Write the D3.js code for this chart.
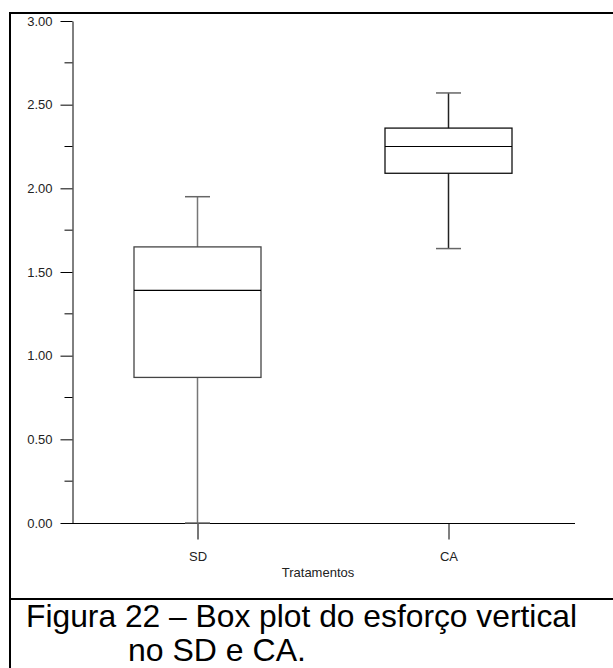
<!DOCTYPE html>
<html><head><meta charset="utf-8">
<script src="https://cdn.jsdelivr.net/npm/d3@7"></script>
<style>body{margin:0;background:#fff;}svg{display:block;}</style>
</head><body>
<svg id="c" width="613" height="668"></svg>
<script>
const categories = ["SD", "CA"];
const whiskerLow = [0.00, 1.64];
const q1 = [0.87, 2.09];
const median = [1.39, 2.25];
const q3 = [1.65, 2.36];
const whiskerHigh = [1.95, 2.57];
const yMajorTicks = [0, 0.5, 1.0, 1.5, 2.0, 2.5, 3.0];
const yMinorTicks = [0.25, 0.75, 1.25, 1.75, 2.25, 2.75];
const xTitle = "Tratamentos";
const captionLines = ["Figura 22 – Box plot do esforço vertical", "no SD e CA."];

const svg = d3.select("#c");
const font = "Arial, 'Liberation Sans', sans-serif";

// frame
svg.append("line").attr("x1",10).attr("x2",613).attr("y1",13).attr("y2",13).attr("stroke","#000").attr("stroke-width",2);
svg.append("line").attr("x1",10).attr("x2",10).attr("y1",12).attr("y2",668).attr("stroke","#000").attr("stroke-width",2);
svg.append("line").attr("x1",10).attr("x2",613).attr("y1",599).attr("y2",599).attr("stroke","#000").attr("stroke-width",2);

const y = d3.scaleLinear().domain([0,3]).range([523,21]);
const x = d3.scalePoint().domain(categories).range([72,574]).padding(0.5);

// y axis
const gy = svg.append("g").attr("transform","translate(72.5,0)");
gy.call(d3.axisLeft(y).tickValues(yMajorTicks).tickFormat(d3.format(".2f")).tickSize(12).tickSizeOuter(0).tickPadding(8));
gy.selectAll(".minor").data(yMinorTicks).enter().append("line")
  .attr("x1",-8).attr("x2",0).attr("y1",d=>y(d)).attr("y2",d=>y(d)).attr("stroke","#000");
gy.select(".domain").attr("stroke","#000");
gy.selectAll("text").attr("font-family",font).attr("font-size",13).attr("fill","#222");

// x axis
const gx = svg.append("g").attr("transform","translate(0,523.5)");
gx.call(d3.axisBottom(x).tickSize(16).tickSizeOuter(0).tickPadding(8));
gx.select(".domain").attr("d","M72,0H575").attr("stroke","#000");
gx.selectAll("text").attr("font-family",font).attr("font-size",13).attr("fill","#222")
  .attr("y",37.5).attr("dy",null);
gx.selectAll(".tick line").attr("stroke",(d,i)=>i===0?"#777":"#000").attr("stroke-width",(d,i)=>i===0?2:1);

svg.append("text").attr("x",318).attr("y",577).attr("text-anchor","middle")
  .attr("font-family",font).attr("font-size",13).attr("fill","#222").text(xTitle);

// boxes
const boxW = 127, capW = 25;
categories.forEach((c,i)=>{
  const cx = x(c);
  const g = svg.append("g");
  const wcol = i===0 ? "#777" : "#222";
  const bcol = i===0 ? "#444" : "#111";
  g.append("line").attr("x1",cx).attr("x2",cx).attr("y1",y(whiskerHigh[i])).attr("y2",y(q3[i])).attr("stroke",wcol).attr("stroke-width",1.5);
  g.append("line").attr("x1",cx).attr("x2",cx).attr("y1",y(q1[i])).attr("y2",y(whiskerLow[i])).attr("stroke",wcol).attr("stroke-width",1.5);
  g.append("line").attr("x1",cx-capW/2).attr("x2",cx+capW/2).attr("y1",y(whiskerHigh[i])).attr("y2",y(whiskerHigh[i])).attr("stroke","#666").attr("stroke-width",1.5);
  g.append("line").attr("x1",cx-capW/2).attr("x2",cx+capW/2).attr("y1",y(whiskerLow[i])).attr("y2",y(whiskerLow[i])).attr("stroke","#666").attr("stroke-width",1.5);
  g.append("rect").attr("x",cx-boxW/2).attr("width",boxW).attr("y",y(q3[i])).attr("height",y(q1[i])-y(q3[i]))
    .attr("fill","none").attr("stroke",bcol).attr("stroke-width",1.3);
  g.append("line").attr("x1",cx-boxW/2).attr("x2",cx+boxW/2).attr("y1",y(median[i])).attr("y2",y(median[i])).attr("stroke","#000").attr("stroke-width",1.2);
});

// caption
svg.append("text").attr("x",26).attr("y",627).attr("font-family",font).attr("font-size",32).attr("fill","#000")
  .attr("textLength",551).attr("lengthAdjust","spacingAndGlyphs").text(captionLines[0]);
svg.append("text").attr("x",128).attr("y",661).attr("font-family",font).attr("font-size",32).attr("fill","#000").text(captionLines[1]);
</script>
</body></html>
